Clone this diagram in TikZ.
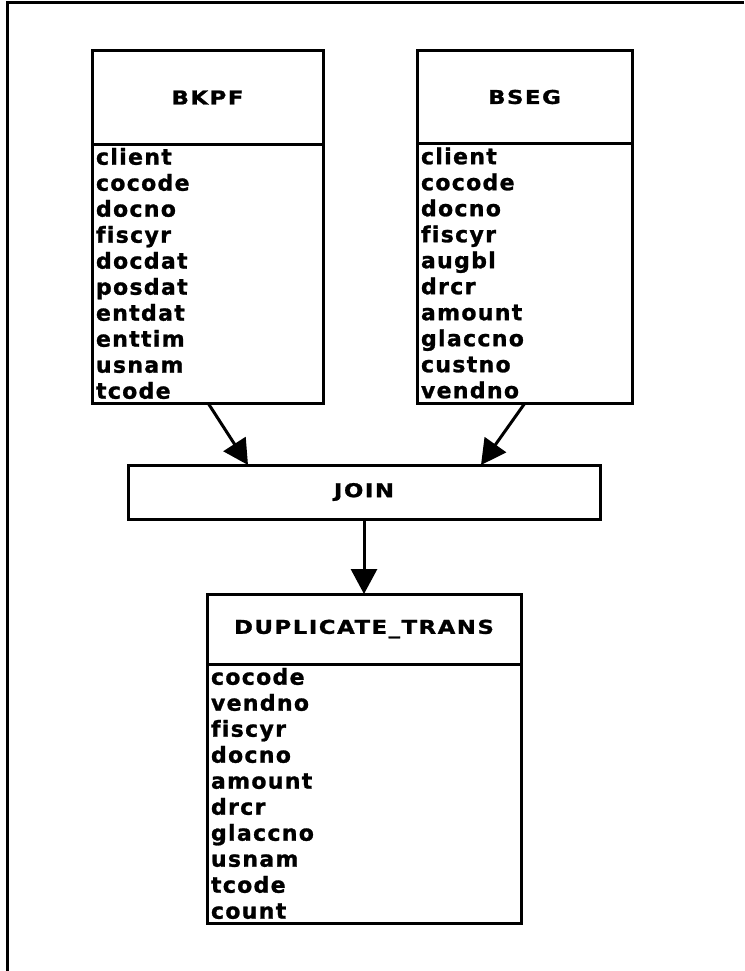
\documentclass[tikz,border=0pt]{standalone}
\usepackage{fontspec}
\setmainfont{DejaVu Sans}[Ligatures=NoCommon]
\newfontfamily\titlefont{DejaVu Sans Bold}[FakeStretch=1.2,LetterSpace=8,FakeBold=1.2,Ligatures=NoCommon]
\newfontfamily\fieldfont{DejaVu Sans Bold}[LetterSpace=6,FakeBold=1.2,Ligatures=NoCommon]
\usetikzlibrary{arrows.meta}

\begin{document}
\begin{tikzpicture}
[x=1pt,y=-1pt
,tbl/.style={draw,line width=3pt,inner sep=0pt,outer sep=0pt,anchor=north west}
,hdr/.style={tbl,font=\titlefont\fontsize{19}{22}\selectfont}
,flds/.style={tbl,align=left,inner xsep=4pt,font=\fieldfont\fontsize{22}{26}\selectfont}
,ar/.style={draw=black,line width=3pt,arrows={-Triangle[length=25pt,width=26pt]}}
]
\useasboundingbox (0,0) rectangle (744,971);
\draw[line width=3pt] (7,971) -- (7,3) -- (744,3);
% source tables
\node[hdr,minimum width=231pt,minimum height=93pt] (bkpf) at (92,51) {BKPF};
\node[flds,minimum height=259pt,text width=223pt] (bkpfF) at (bkpf.south west)
  {client\\cocode\\docno\\fiscyr\\docdat\\posdat\\entdat\\enttim\\usnam\\tcode};
\node[hdr,minimum width=215pt,minimum height=92pt] (bseg) at (417,51) {BSEG};
\node[flds,minimum height=260pt,text width=207pt] (bsegF) at (bseg.south west)
  {client\\cocode\\docno\\fiscyr\\augbl\\drcr\\amount\\glaccno\\custno\\vendno};
% join
\node[hdr,minimum width=472pt,minimum height=54pt] (join) at (128,465) {JOIN};
% result table
\node[hdr,minimum width=314pt,minimum height=70pt] (dup) at (207,594) {DUPLICATE\_TRANS};
\node[flds,minimum height=259pt,text width=306pt] (dupF) at (dup.south west)
  {cocode\\vendno\\fiscyr\\docno\\amount\\drcr\\glaccno\\usnam\\tcode\\count};
\draw[ar] ([xshift=116pt]bkpfF.south west) -- ([xshift=120pt]join.north west);
\draw[ar] ([xshift=108pt]bsegF.south west) -- ([xshift=353pt]join.north west);
\draw[ar] (join.south) -- (dup.north);
\end{tikzpicture}
\end{document}
